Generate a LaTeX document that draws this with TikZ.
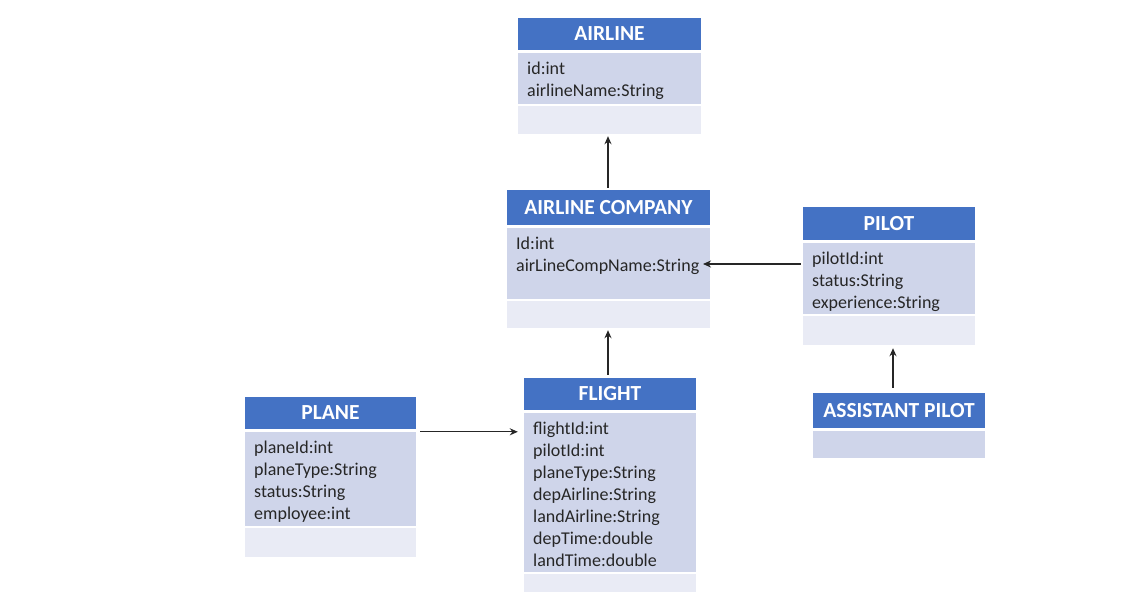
\documentclass[tikz,border=0pt]{standalone}
\usepackage{fontspec}
\setmainfont{Carlito}
\usetikzlibrary{arrows.meta}
\definecolor{hdrblue}{HTML}{4472C4}
\definecolor{attrfill}{HTML}{CFD5EA}
\definecolor{methfill}{HTML}{E9EBF5}
\begin{document}
\begin{tikzpicture}[x=1pt,y=-1pt,
  hdr/.style={draw=none,fill=hdrblue,text=white,font=\fontsize{21.5}{24}\selectfont\bfseries,inner sep=0pt},
  attrbox/.style={draw=none,fill=attrfill,inner sep=0pt},
  methbox/.style={draw=none,fill=methfill,inner sep=0pt},
  attrtext/.style={anchor=north west,align=left,inner sep=0pt,font=\fontsize{18}{22}\selectfont,text=black!85},
  arr/.style={-{Stealth[length=8pt,width=7pt]},line width=1.3pt,black!85}]
\useasboundingbox (0,0) rectangle (1140,592);
\fill[white] (0,0) rectangle (1140,592);
% AIRLINE
\node[hdr,minimum width=183pt,minimum height=32pt] (al-h) at (609.5,34) {AIRLINE};
\node[attrbox,minimum width=183pt,minimum height=51pt] (al-a) at (609.5,78.5) {};
\node[methbox,minimum width=183pt,minimum height=28pt] (al-m) at (609.5,120) {};
\node[attrtext] (al-t) at (527,62) {id:int\\airlineName:String};
% AIRLINE COMPANY
\node[hdr,minimum width=203pt,minimum height=35pt] (co-h) at (608.5,207.5) {AIRLINE COMPANY};
\node[attrbox,minimum width=203pt,minimum height=71pt] (co-a) at (608.5,263.5) {};
\node[methbox,minimum width=203pt,minimum height=27pt] (co-m) at (608.5,314.5) {};
\node[attrtext] (co-t) at (516,237) {Id:int\\airLineCompName:String};
\coordinate (co-end) at (703,264);
% PILOT
\node[hdr,minimum width=172pt,minimum height=33pt] (pi-h) at (889,223.5) {PILOT};
\node[attrbox,minimum width=172pt,minimum height=71pt] (pi-a) at (889,278.5) {};
\node[methbox,minimum width=172pt,minimum height=29pt] (pi-m) at (889,330.5) {};
\node[attrtext] (pi-t) at (812,252) {pilotId:int\\status:String\\experience:String};
% ASSISTANT PILOT
\node[hdr,minimum width=172pt,minimum height=35pt] (as-h) at (899,410.5) {ASSISTANT PILOT};
\node[attrbox,minimum width=172pt,minimum height=27pt] (as-m) at (899,444.5) {};
% PLANE
\node[hdr,minimum width=171pt,minimum height=32pt] (pl-h) at (330.5,413) {PLANE};
\node[attrbox,minimum width=171pt,minimum height=94pt] (pl-a) at (330.5,479) {};
\node[methbox,minimum width=171pt,minimum height=29pt] (pl-m) at (330.5,542.5) {};
\node[attrtext] (pl-t) at (254,441) {planeId:int\\planeType:String\\status:String\\employee:int};
% FLIGHT
\node[hdr,minimum width=172pt,minimum height=32pt] (fl-h) at (610,394) {FLIGHT};
\node[attrbox,minimum width=172pt,minimum height=159pt] (fl-a) at (610,492.5) {};
\node[methbox,minimum width=172pt,minimum height=18pt] (fl-m) at (610,583) {};
\node[attrtext] (fl-t) at (533,422) {flightId:int\\pilotId:int\\planeType:String\\depAirline:String\\landAirline:String\\depTime:double\\landTime:double};
% connectors
\draw[arr] ([xshift=-0.5pt,yshift=2pt]co-h.north) -- ([xshift=-1.5pt,yshift=-2pt]al-m.south);
\draw[arr] ([xshift=-2pt]pi-a.west |- co-end) -- (co-end);
\draw[arr] ([xshift=-2pt,yshift=3pt]fl-h.north) -- ([xshift=-0.5pt,yshift=-2pt]co-m.south);
\draw[arr] ([xshift=4pt]pl-a.north east) -- ([xshift=-6pt]fl-a.west |- pl-a.north east);
\draw[arr] ([xshift=-6pt,yshift=5pt]as-h.north) -- ([xshift=4pt,yshift=-3pt]pi-m.south);
\end{tikzpicture}
\end{document}
